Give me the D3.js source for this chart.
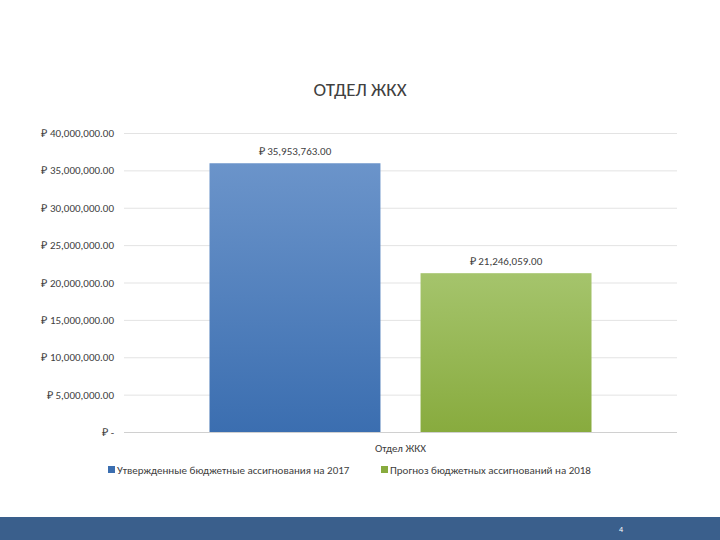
<!DOCTYPE html>
<html><head><meta charset="utf-8">
<script src="https://cdn.jsdelivr.net/npm/d3@7"></script>
<style>body{margin:0;background:#fff}svg{font-family:Calibri,Carlito,"Open Sans",sans-serif}</style>
</head><body><div id="container"></div>
<script>
var categories = ["Отдел ЖКХ"];
var series = ["Утвержденные бюджетные ассигнования на 2017", "Прогноз бюджетных ассигнований на 2018"];
var values = [35953763, 21246059];
var ticks = [0, 5000000, 10000000, 15000000, 20000000, 25000000, 30000000, 35000000, 40000000];

var width = 720, height = 540;
var svg = d3.select("#container").append("svg").attr("width", width).attr("height", height);

var defs = svg.append("defs");
var grads = [["#6b94ca", "#3b6eb0"], ["#a5c46c", "#88ab3e"]];
grads.forEach(function(g, i) {
  var lg = defs.append("linearGradient").attr("id", "g" + i).attr("x1", 0).attr("y1", 0).attr("x2", 0).attr("y2", 1);
  lg.append("stop").attr("offset", "0%").attr("stop-color", g[0]);
  lg.append("stop").attr("offset", "100%").attr("stop-color", g[1]);
});

var y = d3.scaleLinear().domain([0, 40000000]).range([432, 133]);
var x0 = d3.scaleBand().domain(categories).range([124, 677]).paddingInner(0).paddingOuter(0.2238);
var x1 = d3.scaleBand().domain(series).range([0, x0.bandwidth()]).paddingInner(0.19).paddingOuter(0);

function fmt(v) { return v === 0 ? "₽ -" : "₽ " + d3.format(",.2f")(v); }

// gridlines
svg.selectAll(".grid").data(ticks).enter().append("line")
  .attr("x1", 124).attr("x2", 677)
  .attr("y1", function(d) { return y(d) + 0.5; }).attr("y2", function(d) { return y(d) + 0.5; })
  .attr("stroke", function(d) { return d === 0 ? "#d0d0d0" : "#e3e3e3"; });

svg.selectAll(".tick").data(ticks).enter().append("text")
  .attr("x", 114).attr("y", function(d) { return y(d) + 4; })
  .attr("text-anchor", "end").attr("font-size", 11).attr("fill", "#404040")
  .text(fmt);

var g = svg.append("g").attr("transform", "translate(" + x0(categories[0]) + ",0)");
g.selectAll("rect").data(values).enter().append("rect")
  .attr("x", function(d, i) { return x1(series[i]); })
  .attr("width", x1.bandwidth())
  .attr("y", function(d) { return y(d); })
  .attr("height", function(d) { return y(0) - y(d); })
  .attr("fill", function(d, i) { return "url(#g" + i + ")"; });

g.selectAll(".lbl").data(values).enter().append("text")
  .attr("x", function(d, i) { return x1(series[i]) + x1.bandwidth() / 2; })
  .attr("y", function(d) { return y(d) - 8; })
  .attr("text-anchor", "middle").attr("font-size", 11).attr("fill", "#404040")
  .text(fmt);

svg.append("text").attr("x", x0(categories[0]) + x0.bandwidth() / 2).attr("y", 452)
  .attr("text-anchor", "middle").attr("font-size", 11).attr("fill", "#404040").text(categories[0]);

svg.append("text").attr("x", 360).attr("y", 96).attr("text-anchor", "middle")
  .attr("font-size", 19).attr("fill", "#404040").text("ОТДЕЛ ЖКХ");

// legend
var legX = [108, 381];
series.forEach(function(s, i) {
  svg.append("rect").attr("x", legX[i]).attr("y", 466).attr("width", 7).attr("height", 7).attr("fill", grads[i][1]);
  svg.append("text").attr("x", legX[i] + 9).attr("y", 474).attr("font-size", 11).attr("fill", "#404040").text(s);
});

// footer
svg.append("rect").attr("x", 0).attr("y", 517).attr("width", width).attr("height", 23).attr("fill", "#3a5f8c");
svg.append("text").attr("x", 621).attr("y", 532).attr("text-anchor", "middle").attr("font-size", 8).attr("fill", "#fff").text("4");
</script></body></html>
